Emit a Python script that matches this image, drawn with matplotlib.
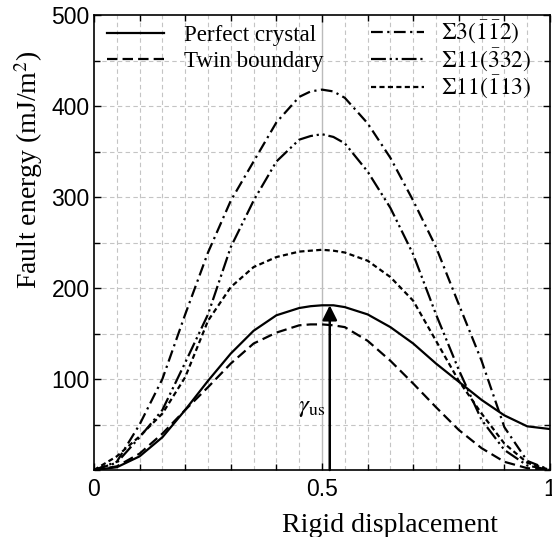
import matplotlib
matplotlib.use("Agg")
import matplotlib.pyplot as plt
from matplotlib.ticker import MultipleLocator

plt.rcParams["font.family"] = "Liberation Sans"
plt.rcParams["mathtext.fontset"] = "stix"

# values
disp = [0.0, 0.05, 0.1, 0.15, 0.2, 0.25, 0.3, 0.35, 0.4, 0.45, 0.475, 0.5,
        0.525, 0.55, 0.6, 0.65, 0.7, 0.75, 0.8, 0.85, 0.9, 0.95, 1.0]
perfect = [0, 3, 15, 36, 66, 98, 128, 153, 170, 178, 180, 181,
           181, 179, 171, 157, 139, 117, 97, 77, 60, 48, 45]
twin = [0, 4, 18, 40, 66, 91, 117, 139, 151, 159, 160, 160,
        159, 157, 142, 120, 95, 69, 44, 24, 9, 2, 0]
s3_112 = [0, 9, 50, 100, 171, 239, 296, 339, 382, 410, 416, 418,
          416, 409, 381, 343, 296, 245, 182, 120, 47, 10, 0]
s11_332 = [0, 8, 36, 66, 118, 171, 245, 296, 339, 363, 367, 369,
           366, 359, 328, 288, 237, 171, 110, 55, 22, 5, 0]
s11_113 = [0, 15, 37, 62, 102, 164, 201, 223, 234, 240, 241, 242,
           241, 239, 230, 212, 186, 142, 98, 62, 29, 8, 0]

labels = ["Perfect crystal", "Twin boundary",
          r"$\Sigma3(\bar{1}\bar{1}2)$", r"$\Sigma11(\bar{3}32)$",
          r"$\Sigma11(\bar{1}13)$"]
gamma_us = 181
x_us = 0.517

serif = "Liberation Serif"
lw = 1.6
styles = ["-", (0, (4.7, 2.3)), (0, (5.3, 2, 1, 2)),
          (0, (6.7, 1.7, 1, 1.7, 1, 1.7)), (0, (2.3, 1.5))]

fig = plt.figure(figsize=(5.52, 5.37), dpi=100)
ax = fig.add_axes([94 / 552, 1 - 470 / 537, 456 / 552, 455 / 537])

lines = []
for ys, ls, lab in zip([perfect, twin, s3_112, s11_332, s11_113], styles, labels):
    ln, = ax.plot(disp, ys, color="black", lw=lw, linestyle=ls, label=lab, zorder=3)
    lines.append(ln)

ax.set_xlim(0, 1)
ax.set_ylim(0, 500)

# grid
for gx in [i * 0.05 for i in range(1, 20)]:
    if abs(gx - 0.5) < 1e-9:
        ax.axvline(gx, color="#bbbbbb", lw=1.0, zorder=1)
    else:
        ax.axvline(gx, color="#c4c4c4", lw=0.8, ls=(0, (4, 3)), zorder=1)
for gy in range(50, 500, 50):
    ax.axhline(gy, color="#c4c4c4", lw=0.8, ls=(0, (4, 3)), zorder=1)

ax.set_xticks([0, 0.5, 1])
ax.set_xticklabels(["0", "0.5", "1"])
ax.set_yticks([100, 200, 300, 400, 500])
ax.xaxis.set_minor_locator(MultipleLocator(0.1))
ax.yaxis.set_minor_locator(MultipleLocator(50))
ax.tick_params(which="both", direction="in", top=True, right=True,
               labelsize=16.5, width=1.0)
ax.tick_params(which="major", length=5)
ax.tick_params(which="minor", length=4)
ax.tick_params(axis="x", pad=6)
ax.tick_params(axis="y", pad=3)
for sp in ax.spines.values():
    sp.set_linewidth(1.2)

ax.set_xlabel("Rigid displacement", family=serif, fontsize=20)
ax.set_ylabel("Fault energy (mJ/m$^2$)", family=serif, fontsize=20)
ax.xaxis.set_label_coords(0.65, -0.095)
ax.yaxis.set_label_coords(-0.108, 0.66)

# gamma_us arrow
ax.annotate("", xy=(x_us, gamma_us), xytext=(x_us, 0),
            arrowprops=dict(arrowstyle="-|>", color="black", lw=1.8,
                            mutation_scale=22, shrinkA=0, shrinkB=0), zorder=4)
ax.text(x_us - 0.01, 69, r"$\gamma_{\rm us}$", fontsize=18, ha="right",
        va="center")

leg1 = ax.legend(lines[:2], labels[:2], loc="upper left", bbox_to_anchor=(0, 1.007),
                 frameon=False, prop=dict(family=serif, size=16.6),
                 handlelength=2.47, handletextpad=0.87,
                 labelspacing=0.24, borderpad=0.35, borderaxespad=0.2)
ax.add_artist(leg1)
ax.legend(lines[2:], labels[2:], loc="upper left", bbox_to_anchor=(0.579, 1.02),
          frameon=False, prop=dict(family=serif, size=17),
          handlelength=2.25, handletextpad=0.72,
          labelspacing=0.02, borderpad=0.35, borderaxespad=0.2)

fig.savefig("out.png", dpi=100)
